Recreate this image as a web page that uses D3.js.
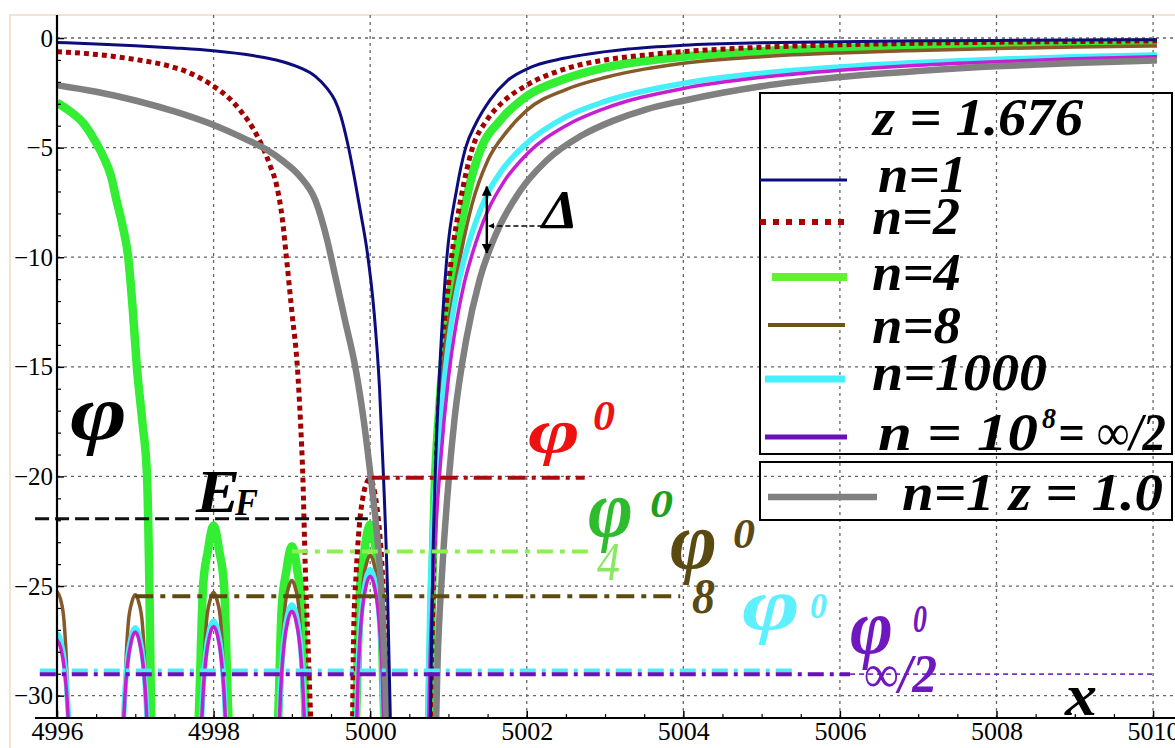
<!DOCTYPE html>
<html><head><meta charset="utf-8">
<script src="https://cdn.jsdelivr.net/npm/d3@7"></script>
<style>html,body{margin:0;padding:0;background:#fff;}svg{display:block;}</style>
</head><body><svg id="chart" width="1175" height="748"></svg>
<script>
// ---------- data ----------
const xTicks = [4996,4998,5000,5002,5004,5006,5008,5010];
const yTicks = [0,-5,-10,-15,-20,-25,-30];

// n=1, z=1.676
const n1Left = [[4996,-0.2],[4996.5,-0.27],[4997,-0.35],[4997.5,-0.45],[4998,-0.58],[4998.5,-0.8],[4998.8,-1.0],[4999.1,-1.35],[4999.3,-1.75],[4999.45,-2.3],[4999.55,-2.85],[4999.62,-3.5],[4999.68,-4.3],[4999.73,-5.1],[4999.8,-6.4],[4999.88,-8.0],[4999.96,-9.7],[5000.05,-12.5],[5000.12,-16],[5000.17,-20],[5000.22,-25],[5000.27,-33]];
const n1Right = [[5000.76,-33],[5000.8,-24],[5000.84,-19],[5000.89,-15],[5000.98,-10],[5001.1,-7],[5001.22,-5],[5001.35,-3.9],[5001.53,-2.83],[5001.75,-1.95],[5002.04,-1.35],[5002.4,-0.98],[5002.7,-0.78],[5003.3,-0.5],[5004,-0.33],[5005,-0.22],[5006,-0.17],[5007,-0.13],[5008,-0.11],[5009,-0.09],[5010.05,-0.08]];
// n=2
const n2Left = [[4996,-0.62],[4996.5,-0.75],[4997,-0.98],[4997.4,-1.25],[4997.7,-1.6],[4998,-2.2],[4998.2,-2.75],[4998.34,-3.3],[4998.5,-4.1],[4998.63,-5.0],[4998.72,-5.8],[4998.81,-6.8],[4998.88,-8.3],[4998.93,-10],[4999.0,-12.5],[4999.07,-15],[4999.11,-17.5],[4999.14,-20],[4999.17,-24],[4999.21,-28],[4999.26,-33]];
const n2Arch = [[4999.77,-33],[4999.79,-27],[4999.82,-24.5],[4999.86,-22.3],[4999.91,-20.9],[4999.96,-20.25],[5000.0,-20.1],[5000.05,-20.6],[5000.1,-21.8],[5000.15,-24],[5000.2,-28],[5000.24,-33]];
const n2Right = [[5000.76,-33],[5000.8,-26],[5000.85,-19],[5000.91,-15],[5001.03,-10.3],[5001.15,-7.5],[5001.3,-5.1],[5001.5,-3.7],[5001.7,-2.9],[5002,-2.15],[5002.5,-1.4],[5003,-1.0],[5003.5,-0.78],[5004,-0.62],[5005,-0.42],[5006,-0.31],[5007,-0.24],[5008,-0.19],[5009,-0.16],[5010.05,-0.13]];
// n=4
const n4Left = [[4996,-2.95],[4996.15,-3.3],[4996.34,-3.9],[4996.47,-4.6],[4996.59,-5.4],[4996.69,-6.3],[4996.76,-7.4],[4996.84,-8.6],[4996.91,-10],[4996.97,-12.5],[4997.02,-15],[4997.09,-17.5],[4997.15,-20],[4997.18,-25],[4997.21,-33]];
const n4Arch1 = [[4997.78,-33],[4997.81,-31],[4997.866,-25],[4997.93,-23.35],[4997.97,-22.5],[4998,-22.25],[4998.03,-22.5],[4998.07,-23.35],[4998.134,-25],[4998.19,-31],[4998.22,-33]];
const n4Arch2 = [[4998.8,-33],[4998.825,-31],[4998.87,-26],[4998.93,-24.3],[4998.97,-23.45],[4999,-23.2],[4999.03,-23.45],[4999.07,-24.3],[4999.13,-26],[4999.175,-31],[4999.2,-33]];
const n4Arch3 = [[4999.8,-33],[4999.82,-31],[4999.87,-25.2],[4999.93,-23.3],[4999.97,-22.45],[5000,-22.2],[5000.03,-22.45],[5000.07,-23.3],[5000.13,-25.2],[5000.18,-31],[5000.2,-33]];
const n4Right = [[5000.74,-33],[5000.78,-27],[5000.82,-21],[5000.88,-17],[5000.95,-14],[5001.08,-10.2],[5001.25,-7],[5001.42,-5],[5001.65,-3.8],[5002,-2.65],[5002.5,-1.85],[5003,-1.35],[5003.5,-1.05],[5004,-0.85],[5005,-0.6],[5006,-0.46],[5007,-0.37],[5008,-0.31],[5009,-0.25],[5010.05,-0.21]];
// n=8
const n8Arch0 = [[4996,-25.25],[4996.045,-25.6],[4996.09,-26.6],[4996.12,-28.4],[4996.145,-30.9],[4996.165,-33]];
const n8Arch1 = [[4996.835,-33],[4996.855,-31],[4996.88,-28.5],[4996.91,-26.7],[4996.955,-25.75],[4997,-25.4],[4997.045,-25.75],[4997.09,-26.7],[4997.12,-28.5],[4997.145,-31],[4997.165,-33]];
const n8Arch2 = [[4997.835,-33],[4997.855,-30.9],[4997.88,-28.4],[4997.91,-26.6],[4997.955,-25.65],[4998,-25.3],[4998.045,-25.65],[4998.09,-26.6],[4998.12,-28.4],[4998.145,-30.9],[4998.165,-33]];
const n8Arch3 = [[4998.835,-33],[4998.855,-30.4],[4998.88,-27.85],[4998.91,-26.05],[4998.955,-25.1],[4999,-24.75],[4999.045,-25.1],[4999.09,-26.05],[4999.12,-27.85],[4999.145,-30.4],[4999.165,-33]];
const n8Arch4 = [[4999.82,-33],[4999.845,-30],[4999.88,-26.7],[4999.91,-24.9],[4999.955,-23.95],[5000,-23.6],[5000.045,-23.95],[5000.09,-24.9],[5000.12,-26.7],[5000.155,-30],[5000.18,-33]];
const n8Right = [[5000.75,-33],[5000.78,-27],[5000.82,-22],[5000.87,-18],[5000.93,-15],[5001.05,-12],[5001.15,-10],[5001.3,-7.6],[5001.5,-5.6],[5001.75,-4.25],[5002,-3.3],[5002.5,-2.35],[5003,-1.8],[5003.5,-1.42],[5004,-1.15],[5005,-0.85],[5006,-0.68],[5007,-0.57],[5008,-0.48],[5009,-0.41],[5010.05,-0.36]];
// n=1000
const n1000Arch0 = [[4996,-27.15],[4996.05,-27.55],[4996.1,-28.65],[4996.13,-29.95],[4996.155,-31.75],[4996.18,-34.65]];
const n1000Arch1 = [[4996.82,-34.4],[4996.845,-31.5],[4996.87,-29.7],[4996.9,-28.4],[4996.95,-27.3],[4997,-26.9],[4997.05,-27.3],[4997.1,-28.4],[4997.13,-29.7],[4997.155,-31.5],[4997.18,-34.4]];
const n1000Arch2 = [[4997.82,-34.1],[4997.845,-31.2],[4997.87,-29.4],[4997.9,-28.1],[4997.95,-27.0],[4998,-26.6],[4998.05,-27.0],[4998.1,-28.1],[4998.13,-29.4],[4998.155,-31.2],[4998.18,-34.1]];
const n1000Arch3 = [[4998.82,-33.35],[4998.845,-30.45],[4998.87,-28.65],[4998.9,-27.35],[4998.95,-26.25],[4999,-25.85],[4999.05,-26.25],[4999.1,-27.35],[4999.13,-28.65],[4999.155,-30.45],[4999.18,-33.35]];
const n1000Arch4 = [[4999.81,-33.5],[4999.845,-28.85],[4999.87,-27.05],[4999.9,-25.75],[4999.95,-24.65],[5000,-24.25],[5000.05,-24.65],[5000.1,-25.75],[5000.13,-27.05],[5000.155,-28.85],[5000.19,-33.5]];
const n1000Right = [[5000.73,-33],[5000.76,-26],[5000.8,-22.5],[5000.9,-17.4],[5001,-13.95],[5001.1,-11.7],[5001.2,-10.1],[5001.3,-8.9],[5001.5,-7.1],[5001.7,-5.95],[5002,-4.8],[5002.5,-3.6],[5003,-2.89],[5004,-2.07],[5005,-1.61],[5006,-1.32],[5007,-1.12],[5008,-0.97],[5009,-0.86],[5010.05,-0.77]];
// n=10^8
const nInfArch0 = [[4996,-27.45],[4996.05,-27.85],[4996.1,-28.95],[4996.13,-30.25],[4996.155,-32.05],[4996.18,-34.95]];
const nInfArch1 = [[4996.82,-34.6],[4996.845,-31.7],[4996.87,-29.9],[4996.9,-28.6],[4996.95,-27.5],[4997,-27.1],[4997.05,-27.5],[4997.1,-28.6],[4997.13,-29.9],[4997.155,-31.7],[4997.18,-34.6]];
const nInfArch2 = [[4997.82,-34.35],[4997.845,-31.45],[4997.87,-29.65],[4997.9,-28.35],[4997.95,-27.25],[4998,-26.85],[4998.05,-27.25],[4998.1,-28.35],[4998.13,-29.65],[4998.155,-31.45],[4998.18,-34.35]];
const nInfArch3 = [[4998.82,-33.65],[4998.845,-30.75],[4998.87,-28.95],[4998.9,-27.65],[4998.95,-26.55],[4999,-26.15],[4999.05,-26.55],[4999.1,-27.65],[4999.13,-28.95],[4999.155,-30.75],[4999.18,-33.65]];
const nInfArch4 = [[4999.81,-33.8],[4999.845,-29.15],[4999.87,-27.35],[4999.9,-26.05],[4999.95,-24.95],[5000,-24.55],[5000.05,-24.95],[5000.1,-26.05],[5000.13,-27.35],[5000.155,-29.15],[5000.19,-33.8]];
const nInfRight = [[5000.74,-33],[5000.76,-29],[5000.8,-25],[5000.9,-19.3],[5001,-15.5],[5001.1,-13],[5001.2,-11.2],[5001.3,-9.9],[5001.5,-7.9],[5001.7,-6.6],[5002,-5.3],[5002.5,-4.0],[5003,-3.21],[5004,-2.3],[5005,-1.79],[5006,-1.47],[5007,-1.24],[5008,-1.08],[5009,-0.95],[5010.05,-0.85]];
// n=1, z=1.0
const grayLeft = [[4996,-2.15],[4996.5,-2.45],[4997,-2.85],[4997.5,-3.35],[4998,-3.97],[4998.4,-4.6],[4998.68,-5.1],[4998.9,-5.65],[4999.1,-6.3],[4999.3,-7.4],[4999.45,-9.2],[4999.55,-10.8],[4999.68,-12.9],[4999.81,-15],[4999.92,-17.5],[5000.0,-19.8],[5000.07,-22],[5000.13,-24.5],[5000.19,-29],[5000.23,-33]];
const grayRight = [[5000.83,-33],[5000.86,-28.6],[5000.92,-24.3],[5001.0,-20.3],[5001.08,-17.3],[5001.23,-13.7],[5001.4,-11.0],[5001.6,-9.0],[5001.91,-7.0],[5002.25,-5.6],[5002.7,-4.45],[5003.1,-3.78],[5003.53,-3.25],[5004,-2.86],[5004.5,-2.5],[5005,-2.2],[5006,-1.78],[5007,-1.5],[5008,-1.29],[5009,-1.14],[5010.05,-1.02]];

// reference levels: [value, xStart, xEnd]
const levelEF = [-21.93, 4995.72, 4999.97];
const levelPhi0 = [-20.06, 5000.02, 5002.74];
const levelPhi4 = [-23.43, 4999.0, 5002.8];
const levelPhi8 = [-25.47, 4997.0, 5003.96];
const levelPhiC = [-28.85, 4995.78, 5005.43];
const levelPhiInf = [-29.02, 4995.78, 5006.13, 5010.0];
// delta arrow: [x, yTop, yBottom, yHoriz, xEnd]
const deltaArrow = [5001.49, -6.78, -9.8, -8.57, 5002.2];

// ---------- chart ----------
const svg = d3.select('#chart');
const W = 1175, H = 748;
const x = d3.scaleLinear().domain([4996, 5010.28]).range([57, 1175]);
const y = d3.scaleLinear().domain([1.05, -31.02]).range([15, 718]);
const SERIF = '"Liberation Serif","Times New Roman",serif';

svg.append('rect').attr('width',W).attr('height',H).attr('fill','#fff');
svg.append('path').attr('d','M10,748 L10,15 L1175,15').attr('fill','none').attr('stroke','#ecdcc4').attr('stroke-width',1.5);

svg.append('clipPath').attr('id','plotclip').append('rect')
  .attr('x',x(4996)).attr('y',y(1.05)).attr('width',x(5010.28)-x(4996)).attr('height',y(-31.02)-y(1.05));

// grid
const grid = svg.append('g');
grid.selectAll('line.gx').data(xTicks.filter(d=>d>4996)).join('line')
  .attr('x1',d=>x(d)).attr('x2',d=>x(d)).attr('y1',y(1.05)).attr('y2',y(-31.02))
  .attr('stroke','#666').attr('stroke-width',1.3).attr('stroke-dasharray','3,4');
grid.selectAll('line.gy').data(yTicks).join('line')
  .attr('x1',x(4996)).attr('x2',W).attr('y1',d=>y(d)).attr('y2',d=>y(d))
  .attr('stroke','#666').attr('stroke-width',1.3).attr('stroke-dasharray','3,4');

// legend boxes
const lg = svg.append('g');
lg.append('rect').attr('x',760).attr('y',93).attr('width',412).attr('height',361).attr('fill','none').attr('stroke','#000').attr('stroke-width',2);
lg.append('rect').attr('x',760).attr('y',462).attr('width',412).attr('height',58).attr('fill','none').attr('stroke','#000').attr('stroke-width',2);

// curves
const line = d3.line().x(d=>x(d[0])).y(d=>y(d[1])).curve(d3.curveMonotoneX);
const series = [
  {segs:[n4Left,n4Arch1,n4Arch2,n4Arch3,n4Right], color:'#33ee33', w:8.5},
  {segs:[n2Left,n2Arch,n2Right], color:'#a30000', w:5, dash:'5,4'},
  {segs:[n8Arch0,n8Arch1,n8Arch2,n8Arch3,n8Arch4,n8Right], color:'#86592a', w:3.5},
  {segs:[n1000Arch0,n1000Arch1,n1000Arch2,n1000Arch3,n1000Arch4,n1000Right], color:'#44f0fa', w:5.5},
  {segs:[nInfArch0,nInfArch1,nInfArch2,nInfArch3,nInfArch4,nInfRight], color:'#c81ed2', w:3.5},
  {segs:[grayLeft,grayRight], color:'#808080', w:6.5},
  {segs:[n1Left,n1Right], color:'#0c0c7c', w:3}
];
const cg = svg.append('g').attr('clip-path','url(#plotclip)');
series.forEach(s=>{
  cg.selectAll(null).data(s.segs).join('path').attr('d',line)
    .attr('fill','none').attr('stroke',s.color).attr('stroke-width',s.w)
    .attr('stroke-dasharray',s.dash||null).attr('stroke-linejoin','round');
});

// reference levels
const lv = svg.append('g');
function hline(level, color, w, dash){
  lv.append('line').attr('x1',x(level[1])).attr('x2',x(level[2])).attr('y1',y(level[0])).attr('y2',y(level[0]))
    .attr('stroke',color).attr('stroke-width',w).attr('stroke-dasharray',dash);
}
hline(levelEF,'#111',3,'14,6');
hline(levelPhi0,'#a80c0c',4,'18,6,4,6');
hline(levelPhi4,'#8cf050',4,'16,7,5,7');
hline(levelPhi8,'#5e4a0c',4,'18,7,5,7');
hline(levelPhiC,'#4cecf4',4,'16,6,4,6');
hline(levelPhiInf,'#6a10b8',4,'16,6,4,6');
lv.append('line').attr('x1',x(levelPhiInf[2])).attr('x2',x(levelPhiInf[3])).attr('y1',y(levelPhiInf[0])).attr('y2',y(levelPhiInf[0]))
  .attr('stroke','#7a30c0').attr('stroke-width',1.6).attr('stroke-dasharray','5,4');

// axes
const ax = svg.append('g');
const yAxis = ax.append('g').attr('transform',`translate(${x(4996)},0)`)
  .call(d3.axisLeft(y).tickValues(yTicks).tickSize(-7).tickPadding(4).tickFormat(d3.format('d')));
yAxis.attr('font-family',null).attr('font-size',null);
yAxis.select('.domain').remove();
yAxis.selectAll('line').attr('stroke','#000').attr('stroke-width',1.5);
yAxis.selectAll('text').style('font-family',SERIF).style('font-size','25px').attr('fill','#000');
const yMinor = d3.range(-31,1,1).filter(v=>v%5!==0);
ax.append('g').attr('transform',`translate(${x(4996)},0)`)
  .call(d3.axisLeft(y).tickValues(yMinor).tickSize(-4).tickFormat(''))
  .call(g=>g.select('.domain').remove()).selectAll('line').attr('stroke','#000').attr('stroke-width',1.2);

const xAxis = ax.append('g').attr('transform',`translate(0,${y(-31.02)})`)
  .call(d3.axisBottom(x).tickValues(xTicks).tickSize(-7).tickPadding(4).tickFormat(d3.format('d')));
xAxis.attr('font-family',null).attr('font-size',null);
xAxis.select('.domain').remove();
xAxis.selectAll('line').attr('stroke','#000').attr('stroke-width',1.5);
xAxis.selectAll('text').style('font-family',SERIF).style('font-size','26px').attr('fill','#000');
const xMinor = d3.range(4996.5,5010.3,0.5).filter(v=>v%2!==0);
ax.append('g').attr('transform',`translate(0,${y(-31.02)})`)
  .call(d3.axisBottom(x).tickValues(xMinor).tickSize(-4).tickFormat(''))
  .call(g=>g.select('.domain').remove()).selectAll('line').attr('stroke','#000').attr('stroke-width',1.2);
ax.append('line').attr('x1',x(4996)).attr('x2',x(4996)).attr('y1',y(1.05)).attr('y2',y(-31.02)).attr('stroke','#000').attr('stroke-width',2.2);
ax.append('line').attr('x1',35).attr('x2',W).attr('y1',y(-31.02)).attr('y2',y(-31.02)).attr('stroke','#000').attr('stroke-width',2.2);

// delta arrow
const da = svg.append('g');
const defs = svg.append('defs');
defs.append('marker').attr('id','ah').attr('viewBox','0 0 10 10').attr('refX',9).attr('refY',5)
  .attr('markerWidth',4).attr('markerHeight',4).attr('orient','auto-start-reverse')
  .append('path').attr('d','M0,0 L10,5 L0,10 z').attr('fill','#000');
da.append('line').attr('x1',x(deltaArrow[0])).attr('x2',x(deltaArrow[0])).attr('y1',y(deltaArrow[1])).attr('y2',y(deltaArrow[2]))
  .attr('stroke','#000').attr('stroke-width',2.5).attr('marker-start','url(#ah)').attr('marker-end','url(#ah)');
da.append('line').attr('x1',x(deltaArrow[4])).attr('x2',x(deltaArrow[0])+2).attr('y1',y(deltaArrow[3])).attr('y2',y(deltaArrow[3]))
  .attr('stroke','#000').attr('stroke-width',1.5).attr('stroke-dasharray','5,3').attr('marker-end','url(#ah)');

// text helper
function txt(g, s, px, py, size, color, opts={}){
  const t = g.append('text').attr('x',px).attr('y',py).text(s)
    .style('font-family',SERIF).style('font-size',size+'px').attr('fill',color)
    .style('font-style',opts.style||'italic').style('font-weight',opts.weight||'bold');
  if(opts.len) t.attr('textLength',opts.len).attr('lengthAdjust','spacingAndGlyphs');
  return t;
}
const an = svg.append('g');
txt(an,'Δ',542,228,55,'#000',{len:36});
txt(an,'φ',70,439,79,'#000',{len:57});
txt(an,'E',196,512,62,'#000',{len:44});
txt(an,'F',235,515,38,'#000',{len:23});
txt(an,'φ',528,452,64,'#ee1111',{len:52});
txt(an,'0',593,430,42,'#ee1111',{len:22});
txt(an,'φ',588,536,80,'#2ebb2e',{len:45});
txt(an,'0',650,517,41,'#1f9f1f',{len:23});
txt(an,'4',597,580,54,'#88e860',{weight:'normal',len:23});
txt(an,'φ',670,568,80,'#5a4a12',{len:47});
txt(an,'0',733,548,42,'#5a4a12',{len:22});
txt(an,'8',692,613,50,'#5a4a12',{len:23});
txt(an,'φ',742,629,74,'#5ff0ff',{len:58});
txt(an,'0',810,618,35,'#5ff0ff',{len:17});
txt(an,'φ',850,653,79,'#7018c0',{len:43});
txt(an,'0',913,632,41,'#7018c0',{len:14});
txt(an,'∞/2',863,692,54,'#7018c0',{len:74});
txt(an,'x',1065,715,60,'#000',{len:32});

// legend
const legendItems = [
  {label:'n=1', color:'#0c0c7c', w:3, x1:760, x2:847, ly:180, tx:878, ty:192, len:89},
  {label:'n=2', color:'#b00000', w:6, dash:'6,7', x1:760, x2:847, ly:222, tx:872, ty:234, len:88},
  {label:'n=4', color:'#66f033', w:8, x1:772, x2:847, ly:277, tx:872, ty:290, len:89},
  {label:'n=8', color:'#6e5418', w:4, x1:768, x2:845, ly:325, tx:872, ty:343, len:89},
  {label:'n=1000', color:'#44f0fa', w:7, x1:765, x2:845, ly:379, tx:872, ty:390, len:175},
  {label:'n = 10', color:'#6a10b8', w:5, x1:765, x2:847, ly:437, tx:878, ty:450, len:160},
  {label:'n=1 z = 1.0', color:'#808080', w:6.5, x1:768, x2:877, ly:497, tx:902, ty:510, len:261}
];
const lgi = svg.append('g');
legendItems.forEach(d=>{
  lgi.append('line').attr('x1',d.x1).attr('x2',d.x2).attr('y1',d.ly).attr('y2',d.ly)
    .attr('stroke',d.color).attr('stroke-width',d.w).attr('stroke-dasharray',d.dash||null);
  txt(lgi,d.label,d.tx,d.ty,52,'#000',{len:d.len});
});
txt(lgi,'z = 1.676',873,135,52,'#000',{len:210});
txt(lgi,'8',1042,428,30,'#000',{len:14});
txt(lgi,'= ∞/2',1058,450,52,'#000',{len:108});
</script></body></html>
